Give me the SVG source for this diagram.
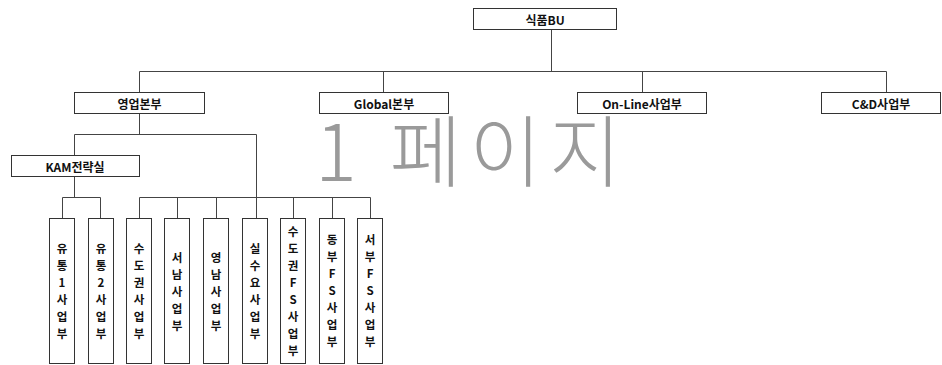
<svg xmlns="http://www.w3.org/2000/svg" width="942" height="365" viewBox="0 0 942 365">
<style>
.box{fill:#fff;stroke:#333;stroke-width:1}
.lbl{font-family:"Noto Sans CJK KR","Noto Sans",sans-serif;font-size:12px;font-weight:bold;fill:#111;text-anchor:middle;dominant-baseline:central}
.vl{font-family:"Noto Sans CJK KR","Noto Sans",sans-serif;font-size:11.5px;font-weight:bold;fill:#111;text-anchor:middle;dominant-baseline:central}
.wm{font-family:"Noto Sans CJK KR","Noto Sans",sans-serif;font-size:78px;font-weight:300;fill:#9a9a9a;text-anchor:middle}
#connectors line{stroke:#444;stroke-width:1}
</style>
<rect width="942" height="365" fill="#fff"/>
<text class="wm" x="472" y="181" letter-spacing="8">1 페이지</text>
<g id="connectors">
<line x1="551.5" y1="29" x2="551.5" y2="71.5"/>
<line x1="139.5" y1="71.5" x2="886.5" y2="71.5"/>
<line x1="139.5" y1="71.5" x2="139.5" y2="92"/>
<line x1="383.5" y1="71.5" x2="383.5" y2="92"/>
<line x1="642.5" y1="71.5" x2="642.5" y2="92"/>
<line x1="886.5" y1="71.5" x2="886.5" y2="92"/>
<line x1="139.5" y1="113" x2="139.5" y2="134.5"/>
<line x1="74.5" y1="134.5" x2="256.5" y2="134.5"/>
<line x1="74.5" y1="134.5" x2="74.5" y2="155"/>
<line x1="256.5" y1="134.5" x2="256.5" y2="218"/>
<line x1="74.5" y1="176" x2="74.5" y2="197.5"/>
<line x1="62.5" y1="197.5" x2="100.5" y2="197.5"/>
<line x1="62.5" y1="197.5" x2="62.5" y2="218"/>
<line x1="100.5" y1="197.5" x2="100.5" y2="218"/>
<line x1="139.5" y1="197.5" x2="370.5" y2="197.5"/>
<line x1="139.5" y1="197.5" x2="139.5" y2="218"/>
<line x1="177.5" y1="197.5" x2="177.5" y2="218"/>
<line x1="216.5" y1="197.5" x2="216.5" y2="218"/>
<line x1="293.5" y1="197.5" x2="293.5" y2="218"/>
<line x1="332.5" y1="197.5" x2="332.5" y2="218"/>
<line x1="370.5" y1="197.5" x2="370.5" y2="218"/>
</g>
<g id="n-food"><rect class="box" x="473.5" y="8.5" width="143" height="21"/><text class="lbl" x="545" y="19">식품BU</text></g>
<g id="n-sales"><rect class="box" x="74.5" y="92.5" width="130" height="21"/><text class="lbl" x="139.5" y="103">영업본부</text></g>
<g id="n-global"><rect class="box" x="319.5" y="92.5" width="129" height="21"/><text class="lbl" x="384" y="103">Global본부</text></g>
<g id="n-online"><rect class="box" x="577.5" y="92.5" width="129" height="21"/><text class="lbl" x="642" y="103">On-Line사업부</text></g>
<g id="n-cd"><rect class="box" x="821.5" y="92.5" width="119" height="21"/><text class="lbl" x="881" y="103">C&amp;D사업부</text></g>
<g id="n-kam"><rect class="box" x="11.5" y="155.5" width="128" height="21"/><text class="lbl" x="75" y="166">KAM전략실</text></g>
<g id="n-u1"><rect class="box" x="49.5" y="218.5" width="25" height="145"/><text class="vl"><tspan x="62" y="248">유</tspan><tspan x="62" dy="17">통</tspan><tspan x="62" dy="17">1</tspan><tspan x="62" dy="17">사</tspan><tspan x="62" dy="17">업</tspan><tspan x="62" dy="17">부</tspan></text></g>
<g id="n-u2"><rect class="box" x="88.5" y="218.5" width="25" height="145"/><text class="vl"><tspan x="101" y="248">유</tspan><tspan x="101" dy="17">통</tspan><tspan x="101" dy="17">2</tspan><tspan x="101" dy="17">사</tspan><tspan x="101" dy="17">업</tspan><tspan x="101" dy="17">부</tspan></text></g>
<g id="n-sdk"><rect class="box" x="126.5" y="218.5" width="25" height="145"/><text class="vl"><tspan x="139" y="248">수</tspan><tspan x="139" dy="17">도</tspan><tspan x="139" dy="17">권</tspan><tspan x="139" dy="17">사</tspan><tspan x="139" dy="17">업</tspan><tspan x="139" dy="17">부</tspan></text></g>
<g id="n-sn"><rect class="box" x="164.5" y="218.5" width="25" height="145"/><text class="vl"><tspan x="177" y="257">서</tspan><tspan x="177" dy="17">남</tspan><tspan x="177" dy="17">사</tspan><tspan x="177" dy="17">업</tspan><tspan x="177" dy="17">부</tspan></text></g>
<g id="n-yn"><rect class="box" x="203.5" y="218.5" width="25" height="145"/><text class="vl"><tspan x="216" y="257">영</tspan><tspan x="216" dy="17">남</tspan><tspan x="216" dy="17">사</tspan><tspan x="216" dy="17">업</tspan><tspan x="216" dy="17">부</tspan></text></g>
<g id="n-ssy"><rect class="box" x="242.5" y="218.5" width="25" height="145"/><text class="vl"><tspan x="255" y="248">실</tspan><tspan x="255" dy="17">수</tspan><tspan x="255" dy="17">요</tspan><tspan x="255" dy="17">사</tspan><tspan x="255" dy="17">업</tspan><tspan x="255" dy="17">부</tspan></text></g>
<g id="n-sdkfs"><rect class="box" x="280.5" y="218.5" width="25" height="145"/><text class="vl"><tspan x="293" y="231">수</tspan><tspan x="293" dy="17">도</tspan><tspan x="293" dy="17">권</tspan><tspan x="293" dy="17">F</tspan><tspan x="293" dy="17">S</tspan><tspan x="293" dy="17">사</tspan><tspan x="293" dy="17">업</tspan><tspan x="293" dy="17">부</tspan></text></g>
<g id="n-dbfs"><rect class="box" x="319.5" y="218.5" width="25" height="145"/><text class="vl"><tspan x="332" y="239">동</tspan><tspan x="332" dy="17">부</tspan><tspan x="332" dy="17">F</tspan><tspan x="332" dy="17">S</tspan><tspan x="332" dy="17">사</tspan><tspan x="332" dy="17">업</tspan><tspan x="332" dy="17">부</tspan></text></g>
<g id="n-sbfs"><rect class="box" x="357.5" y="218.5" width="25" height="145"/><text class="vl"><tspan x="370" y="239">서</tspan><tspan x="370" dy="17">부</tspan><tspan x="370" dy="17">F</tspan><tspan x="370" dy="17">S</tspan><tspan x="370" dy="17">사</tspan><tspan x="370" dy="17">업</tspan><tspan x="370" dy="17">부</tspan></text></g>
</svg>
